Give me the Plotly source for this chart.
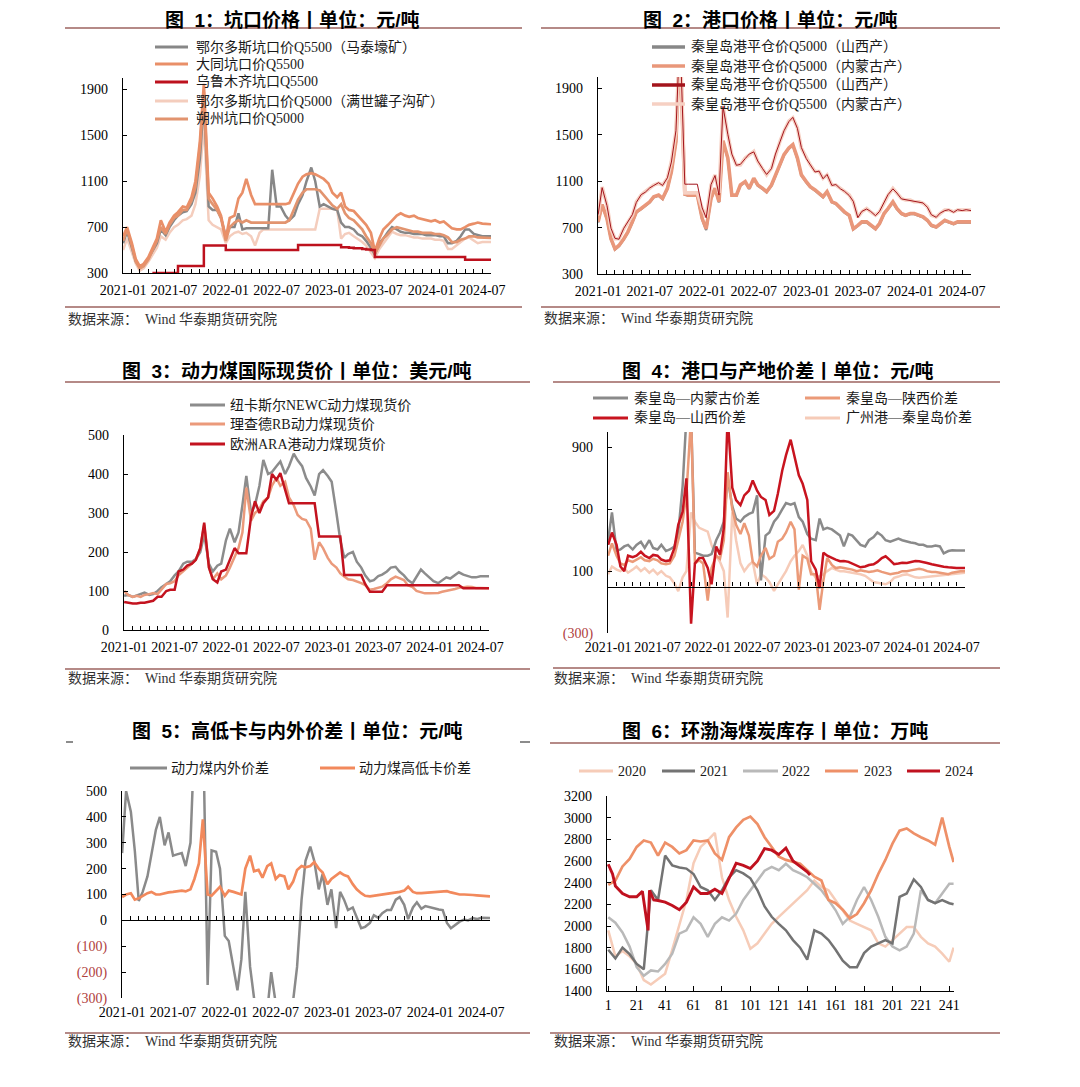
import plotly.graph_objects as go
import pandas as pd

# page body keeps an 8px margin, so the figure is sized to fit inside the window
OFF = 8
W, H = 1080 - 2 * OFF, 1087 - 2 * OFF
SERIF = "Liberation Serif, Noto Sans CJK SC"
HEI = "Liberation Sans, Noto Sans CJK SC"
NEG = "#b0413e"

# ---------------- data ----------------
DATES = [d.strftime("%Y-%m-%d") for d in pd.date_range("2021-01-01", "2024-08-01", freq="SMS")]

# Fig 1 pit-mouth prices
ORDOS5500 = [
    560, 660, 520, 400, 350, 370, 430, 490, 560, 680,
    630, 700, 760, 800, 830, 840, 900, 1000, 1300, 1800,
    880, 850, 850, 780, 620, 700, 700, 820, 680, 690,
    690, 690, 690, 690, 690, 1200, 880, 880, 800, 760,
    800, 900, 980, 1100, 1220, 1100, 880, 900, 880, 860,
    850, 740, 700, 700, 680, 640, 620, 580, 520, 460,
    560, 600, 660, 700, 680, 660, 650, 650, 640, 640,
    640, 630, 630, 630, 620, 620, 560, 560, 580, 620,
    680, 680, 640, 630, 620, 620, 620]
DATONG = [
    620, 700, 560, 420, 360, 380, 440, 520, 600, 760,
    660, 740, 800, 830, 880, 870, 960, 1100, 1450, 1950,
    1000, 950, 880, 800, 600, 780, 800, 950, 1000, 1120,
    980, 900, 900, 900, 900, 900, 900, 900, 900, 910,
    1000, 1080, 1140, 1160, 1170, 1160, 1140, 1120, 1080, 1000,
    960, 1000, 880, 850, 840, 800, 760, 720, 650, 490,
    600, 680, 720, 760, 800, 820, 800, 790, 800, 780,
    770, 760, 750, 760, 740, 750, 720, 690, 680, 680,
    700, 720, 730, 740, 730, 725, 725]
URUMQI = [
    None, None, None, None, None, None, None, 300, 300, 300,
    300, 300, 300, 360, 360, 360, 360, 360, 360, 540,
    540, 540, 540, 540, 500, 500, 500, 500, 500, 500,
    500, 500, 500, 500, 500, 500, 500, 500, 500, 500,
    500, 545, 545, 545, 545, 545, 545, 545, 545, 545,
    545, 525, 525, 520, 515, 515, 510, 505, 500, 440,
    440, 440, 440, 440, 440, 440, 440, 440, 440, 440,
    440, 440, 440, 440, 440, 440, 440, 440, 440, 440,
    415, 415, 415, 415, 415, 415, 415]
ORDOS5000 = [
    500, 600, 480, 380, 320, 340, 400, 460, 520, 620,
    590, 650, 700, 720, 760, 770, 800, 900, 1150, 1600,
    760, 720, 700, 680, 560, 620, 650, 660, 640, 650,
    620, 540, 650, 680, 680, 680, 680, 680, 680, 680,
    680, 680, 680, 680, 680, 680, 860, 860, 860, 860,
    850, 600, 640, 650, 620, 600, 570, 540, 480, 430,
    510, 560, 620, 660, 640, 630, 630, 620, 610, 610,
    600, 600, 600, 590, 590, 580, 510, 510, 540, 570,
    600, 610, 580, 560, 570, 570, 570]
SHUOZHOU = [
    580, 680, 540, 400, 340, 360, 420, 500, 580, 700,
    640, 720, 780, 800, 850, 850, 930, 1050, 1400, 1880,
    950, 900, 850, 780, 580, 700, 740, 760, 740, 760,
    740, 740, 740, 740, 740, 740, 740, 740, 740, 760,
    860, 940, 1000, 1030, 1030, 1030, 1020, 980, 930, 890,
    860, 900, 820, 780, 760, 720, 680, 620, 560, 470,
    540, 600, 640, 680, 700, 690, 680, 670, 660, 660,
    650, 650, 650, 640, 640, 630, 610, 570, 570, 590,
    600, 620, 620, 610, 610, 605, 605]

# Fig 2 port prices
Q5000_SX = [
    745, 895, 772, 600, 512, 541, 600, 657, 745, 831,
    860, 890, 918, 962, 976, 947, 1034, 1179, 1440, 2300,
    985, 975, 975, 975, 772, 680, 947, 1035, 918, 1445,
    1295, 976, 976, 1063, 1092, 1034, 1121, 1063, 1034, 1005,
    1063, 1150, 1237, 1325, 1382, 1411, 1295, 1150, 1092, 1049,
    1020, 991, 962, 1005, 918, 904, 860, 831, 802, 685,
    715, 745, 745, 715, 686, 730, 817, 860, 918, 860,
    817, 802, 817, 817, 802, 788, 759, 715, 701, 730,
    759, 745, 730, 745, 745, 745, 745]
Q5000_NM = [
    750, 900, 778, 604, 517, 546, 604, 662, 750, 836,
    865, 895, 923, 967, 981, 952, 1039, 1184, 1445, 2300,
    990, 980, 980, 980, 778, 690, 952, 1040, 923, 1450,
    1300, 981, 981, 1068, 1097, 1039, 1126, 1068, 1039, 1010,
    1068, 1155, 1242, 1330, 1387, 1416, 1300, 1155, 1097, 1054,
    1025, 996, 967, 1010, 923, 909, 865, 836, 807, 690,
    720, 750, 750, 720, 691, 735, 822, 865, 923, 865,
    822, 807, 822, 822, 807, 793, 764, 720, 706, 735,
    764, 750, 735, 750, 750, 750, 750]
Q5500_SX = [
    812, 1045, 890, 695, 608, 600, 695, 755, 812, 918,
    985, 1005, 1043, 1064, 1088, 1064, 1130, 1266, 1537, 2400,
    1075, 1075, 1075, 1075, 870, 785, 1072, 1150, 981, 1745,
    1505, 1335, 1238, 1246, 1296, 1335, 1354, 1275, 1209, 1159,
    1209, 1335, 1441, 1536, 1615, 1652, 1557, 1391, 1296, 1246,
    1180, 1188, 1122, 1159, 1064, 1072, 1035, 1014, 977, 927,
    786, 840, 861, 840, 803, 840, 919, 985, 1035, 999,
    948, 942, 934, 927, 919, 913, 876, 811, 789, 826,
    847, 855, 832, 855, 847, 855, 847]
Q5500_NM = [
    807, 1050, 895, 691, 604, 604, 691, 750, 807, 923,
    981, 1010, 1039, 1068, 1083, 1068, 1126, 1271, 1532, 2400,
    1000, 1000, 1000, 1000, 865, 790, 1068, 1155, 1000, 1750,
    1500, 1330, 1242, 1242, 1300, 1330, 1358, 1271, 1213, 1155,
    1213, 1330, 1445, 1532, 1619, 1648, 1561, 1387, 1300, 1242,
    1184, 1184, 1126, 1155, 1068, 1068, 1039, 1010, 981, 923,
    790, 836, 865, 836, 807, 836, 923, 981, 1039, 995,
    952, 938, 938, 923, 923, 909, 880, 807, 793, 822,
    851, 851, 836, 851, 851, 851, 851]

# Fig 3 international spot prices (USD/t)
NEWC = [
    88, 90, 85, 88, 92, 96, 90, 92, 100, 110,
    118, 125, 140, 150, 170, 175, 175, 182, 200, 245,
    170, 150, 165, 170, 230, 260, 225, 250, 320, 395,
    300, 320, 370, 436, 400, 405, 420, 432, 400, 420,
    452, 435, 420, 390, 368, 345, 400, 410, 395, 380,
    300, 230, 185, 195, 200, 175, 160, 140, 125, 128,
    138, 142, 150, 160, 162, 150, 140, 128, 120, 135,
    155, 145, 135, 125, 120, 128, 135, 132, 140, 148,
    142, 138, 135, 135, 138, 138, 138]
RB = [
    100, 90, 85, 88, 85, 90, 92, 95, 92, 105,
    118, 120, 125, 140, 150, 160, 170, 180, 210, 270,
    160, 130, 145, 130, 140, 160, 190, 210, 250, 365,
    280, 300, 310, 330, 340, 370, 390, 370, 380, 340,
    320, 295, 285, 282, 260, 180, 225, 210, 185, 170,
    160, 145, 137, 130, 128, 125, 120, 115, 103, 105,
    108, 111, 120, 130, 137, 132, 128, 115, 110, 100,
    96, 94, 94, 94, 95, 98, 100, 103, 105, 108,
    110, 111, 110, 108, 108, 107, 107]
ARA = [
    72, 70, 68, 68, 70, 70, 72, 75, 85, 85,
    100, 103, 103, 150, 155, 165, 170, 180, 210, 275,
    160, 130, 122, 150, 155, 180, 210, 197, 197, 197,
    290, 330, 300, 325, 340, 400, 385, 402, 360, 325,
    325, 325, 325, 325, 325, 325, 240, 240, 240, 240,
    240, 240, 141, 141, 141, 141, 141, 118, 98, 98,
    98, 98, 115, 115, 115, 115, 115, 115, 115, 115,
    115, 115, 115, 115, 115, 115, 115, 115, 115, 115,
    107, 107, 107, 107, 107, 107, 107]

# Fig 4 port vs origin spreads
SPR_NM = [
    300, 480, 230, 240, 260, 270, 240, 270, 290, 250,
    300, 250, 240, 270, 230, 240, 260, 350, 650, 1100,
    1100, 220, 210, 200, 200, 210, 300, 350, 420, 700,
    520, 440, 420, 450, 470, 480, 590, 40, 330, 350,
    420, 450, 500, 540, 530, 540, 450, 420, 340, 310,
    300, 440, 370, 380, 370, 350, 330, 260, 340, 330,
    300, 270, 260, 300, 320, 350, 330, 300, 290, 300,
    310, 300, 290, 285, 280, 270, 270, 260, 260, 265,
    260, 215, 230, 235, 233, 233, 233]
SPR_SHX = [
    200, 280, 200, 150, 140, 170, 160, 175, 190, 170,
    165, 180, 170, 150, 145, 150, 200, 300, 420, 600,
    1100, 150, 170, 150, -90, 120, 200, 180, 300, 740,
    500, 400, 340, 410, 330, 160, 130, 200, 250, 180,
    200, 290, 310, 350, 420, 370, -20, 200, 180, 80,
    80, -150, 40, 185, 140, 120, 125, 120, 115, 110,
    100, 105, 100, 95, 100, 105, 95, 90, 80, 85,
    90, 100, 100, 105, 110, 115, 110, 100, 95, 95,
    90, 85, 80, 90, 95, 100, 100]
SPR_SX = [
    270, 350, 270, 130, 100, 200, 190, 200, 225, 200,
    185, 205, 200, 175, 165, 170, 250, 400, 484, 700,
    -240, 150, 185, 185, 121, 15, 260, 207, 380, 1100,
    640, 560, 527, 590, 620, 687, 620, 580, 560, 463,
    490, 600, 750, 850, 950, 846, 720, 665, 560, 164,
    110, -10, 220, 200, 185, 175, 164, 165, 160, 150,
    135, 125, 130, 140, 145, 160, 185, 196, 170, 145,
    150, 155, 153, 160, 165, 164, 160, 153, 145, 138,
    132, 128, 125, 121, 121, 121, 121]
SPR_GZ = [
    80, 130, 110, 100, 120, 90, 110, 130, 100, 120,
    90, 110, 80, 100, 70, 60, 20, -30, 60, 100,
    480, 420, 380, 370, 356, 270, 200, 160, 100, -200,
    480, 300, 150, 100, 140, 160, 15, 80, 60, 30,
    -28, 15, 60, 100, 164, 200, 230, 270, 200, 100,
    57, 70, 79, 100, 121, 110, 100, 100, 95, 90,
    85, 80, 70, 50, 30, 25, 20, 15, 30, 57,
    65, 75, 79, 70, 60, 57, 60, 65, 68, 70,
    75, 79, 80, 85, 88, 90, 90]

# Fig 5 spreads
IN_OUT = [
    260, 500, 420, 270, 75, 110, 170, 250, 350, 400,
    290, 340, 250, 255, 260, 210, 300, 700, 900, 800,
    -250, 270, 265, 200, -60, -80, -180, -270, -150, 110,
    -180, -300, -350, -380, -350, -200, -320, -380, -400, -350,
    -310, -180, 80, 230, 285, 230, 120, 180, 60, 120,
    -30, 110, 80, 40, 50, 10, -30, -25, -10, 20,
    10, 28, 40, 40, 80, 90, 60, 5, 50, 70,
    45, 55, 50, 45, 42, 40, -10, -30, -15, -5,
    3, 0, 9, 5, 10, 9, 9]
HI_LO = [
    90, 100, 105, 80, 85, 95, 105, 110, 100, 100,
    105, 108, 110, 112, 115, 112, 120, 160, 220, 390,
    100, 95, 115, 130, 95, 115, 110, 105, 100, 200,
    250, 190, 195, 165, 210, 220, 160, 175, 170, 120,
    150, 195, 210, 205, 210, 225, 200, 185, 140, 160,
    175, 185, 175, 170, 140, 120, 105, 95, 93, 95,
    98, 100, 102, 105, 106, 110, 115, 130, 110, 105,
    105, 106, 106, 108, 110, 112, 113, 108, 102, 100,
    100, 100, 98, 97, 95, 95, 93]

# Fig 6 Bohai-rim inventory (10k t), by day index
X6 = [1, 6, 11, 16, 21, 26, 31, 36, 41, 46, 51, 56, 61, 66, 71, 76, 81, 86, 91, 96,
      101, 106, 111, 116, 121, 126, 131, 136, 141, 146, 151, 156, 161, 166, 171, 176,
      181, 186, 191, 196, 201, 206, 211, 216, 221, 226, 231, 236, 241, 244]
Y2020 = [1960, 1720, 1770, 1720, 1650, 1500, 1460, 1510, 1560, 1780,
         2020, 2240, 2580, 2730, 2790, 2860, 2450, 2240, 2085, 1960,
         1790, 1840, 1930, 2020, 2085, 2145, 2210, 2270, 2330, 2420,
         2360, 2330, 2240, 2145, 2050, 2020, 1990, 1960, 1840, 1810,
         1870, 1930, 1990, 1990, 1900, 1840, 1810, 1745, 1670, 1800]
Y2021 = [1780, 1700, 1800, 1740, 1650, 1600, 2330, 2240, 2650, 2560,
         2540, 2530, 2480, 2360, 2330, 2240, 2330, 2450, 2515, 2485,
         2440, 2330, 2180, 2085, 2020, 1960, 1870, 1800, 1690, 1960,
         1930, 1870, 1780, 1680, 1620, 1620, 1750, 1810, 1840, 1870,
         1840, 2270, 2300, 2430, 2360, 2240, 2210, 2240, 2210, 2200]
Y2022 = [2080, 2030, 1940, 1810, 1620, 1540, 1590, 1580, 1650, 1745,
         1930, 1960, 2080, 2020, 1900, 2020, 2080, 2050, 2115, 2240,
         2330, 2420, 2510, 2545, 2515, 2575, 2515, 2485, 2450, 2390,
         2330, 2240, 2145, 2020, 2085, 2240, 2360, 2240, 2085, 1900,
         1810, 1775, 1810, 1930, 2330, 2240, 2210, 2300, 2390, 2390]
Y2023 = [2380, 2420, 2550, 2620, 2730, 2790, 2770, 2650, 2770, 2730,
         2670, 2700, 2790, 2780, 2790, 2670, 2610, 2820, 2910, 2980,
         3010, 2940, 2820, 2730, 2640, 2610, 2590, 2575, 2515, 2455,
         2420, 2240, 2210, 2150, 2070, 2110, 2210, 2330, 2480, 2610,
         2760, 2880, 2900, 2855, 2820, 2790, 2750, 3000, 2730, 2590]
X2024 = [1, 4, 6, 11, 16, 21, 25, 27, 29, 30, 33, 36, 41, 46, 51, 56, 61, 66, 71, 76,
         81, 86, 91, 96, 101, 106, 111, 116, 121, 126, 131, 136, 141, 143]
Y2024 = [2570, 2480, 2370, 2300, 2270, 2270, 2320, 2150, 1960, 2330,
         2240, 2235, 2220, 2190, 2150, 2220, 2360, 2300, 2300, 2340,
         2300, 2440, 2580, 2560, 2530, 2600, 2715, 2700, 2660, 2720,
         2600, 2550, 2500, 2470]
X6_TICKS = [1, 21, 41, 61, 81, 101, 121, 141, 161, 181, 201, 221, 241]

# ---------------- layout helpers (window pixel -> paper fraction) ----------------
def px(x):
    return (x - OFF) / W


def py(y):
    return 1 - (y - OFF) / H


DOM = {
    1: ((123, 491), (78, 273)),
    2: ((598, 971), (77, 274)),
    3: ((124, 489), (435, 630)),
    4: ((608, 965), (432, 633)),
    5: ((122, 490), (791, 998)),
    6: ((607, 954), (796, 991)),
}


def xdom(k):
    a, b = DOM[k][0]
    return [px(a), px(b)]


def ydom(k):
    t, b = DOM[k][1]
    return [py(b), py(t)]


XR = ["2020-12-31 12:00", "2024-08-01"]
TICKFONT = dict(family=SERIF, size=14, color="black")


def date_xaxis(k, anchor, line=True):
    d = dict(domain=xdom(k), anchor=anchor, type="date", range=XR, tickformat="%Y-%m",
             dtick="M6", tick0="2021-01-01", tickangle=0, showgrid=False, zeroline=False,
             tickfont=TICKFONT, ticklabelstandoff=4, fixedrange=True, automargin=False)
    if line:
        d.update(showline=True, linecolor="black", linewidth=1.3, ticks="inside", ticklen=4,
                 tickcolor="black", tickwidth=1,
                 minor=dict(dtick="M1", ticks="inside", ticklen=4, tickcolor="black",
                            tickwidth=1, showgrid=False))
    else:
        d.update(showline=False, ticks="")
    return d


def zero_axis(k, base, rng):
    y0, y1 = ydom(k)
    pos = y0 + (0 - rng[0]) / (rng[1] - rng[0]) * (y1 - y0)
    return dict(overlaying=base, anchor="free", position=pos, type="date", range=XR,
                dtick="M6", tick0="2021-01-01", showticklabels=False, showgrid=False,
                zeroline=False, showline=True, linecolor="black", linewidth=1.3,
                ticks="inside", ticklen=4, tickcolor="black", tickwidth=1, fixedrange=True,
                automargin=False,
                minor=dict(dtick="M1", ticks="inside", ticklen=4, tickcolor="black",
                           tickwidth=1, showgrid=False))


def yaxis(k, anchor, rng, tickvals, ticktext=None):
    d = dict(domain=ydom(k), anchor=anchor, range=rng, tickvals=tickvals, showgrid=False,
             zeroline=False, showline=True, linecolor="black", linewidth=1.3,
             ticks="inside", ticklen=4, tickcolor="black", tickwidth=1,
             tickfont=TICKFONT, ticklabelstandoff=11, fixedrange=True, automargin=False)
    if ticktext is not None:
        d["ticktext"] = ticktext
    return d


def neg(t):
    return "<span style='color:%s'>%s</span>" % (NEG, t)


def line(x, y, xa, ya, color, width, shape="linear"):
    return go.Scatter(x=x, y=y, xaxis=xa, yaxis=ya, mode="lines",
                      line=dict(color=color, width=width, shape=shape),
                      hoverinfo="skip", showlegend=False, connectgaps=False)


# colours
GRAY = "#878787"
ORANGE = "#e98f68"
ORANGE2 = "#e2946f"
RED = "#bd111d"
PINK = "#f4cdbd"

fig = go.Figure()

# Fig 1
fig.add_trace(line(DATES, ORDOS5000, "x", "y", PINK, 2.5))
fig.add_trace(line(DATES, ORDOS5500, "x", "y", GRAY, 2.5))
fig.add_trace(line(DATES, SHUOZHOU, "x", "y", ORANGE2, 2.7))
fig.add_trace(line(DATES, DATONG, "x", "y", ORANGE, 2.7))
fig.add_trace(line(DATES, URUMQI, "x", "y", RED, 2.5, "hv"))

# Fig 2
fig.add_trace(line(DATES, Q5000_SX, "x2", "y2", GRAY, 2.4))
fig.add_trace(line(DATES, Q5000_NM, "x2", "y2", "#e9977a", 3.6))
fig.add_trace(line(DATES, Q5500_NM, "x2", "y2", "#f6d0c3", 3.6))
fig.add_trace(line(DATES, Q5500_SX, "x2", "y2", "#a3141c", 1.0))

# Fig 3
fig.add_trace(line(DATES, NEWC, "x3", "y3", "#8c8c8c", 2.5))
fig.add_trace(line(DATES, RB, "x3", "y3", "#eb9a7b", 2.5))
fig.add_trace(line(DATES, ARA, "x3", "y3", "#c3131f", 2.5))

# Fig 4
fig.add_trace(line(DATES, SPR_GZ, "x4", "y4", "#f6cbb8", 2.5))
fig.add_trace(line(DATES, SPR_NM, "x4", "y4", "#8a8a8a", 2.5))
fig.add_trace(line(DATES, SPR_SHX, "x4", "y4", "#eb9a78", 2.5))
fig.add_trace(line(DATES, SPR_SX, "x4", "y4", "#c8141f", 2.5))
fig.add_trace(go.Scatter(x=[DATES[0], DATES[-1]], y=[0, 0], xaxis="x7", yaxis="y4",
                         mode="lines", line=dict(color="black", width=0.1), opacity=0,
                         hoverinfo="skip", showlegend=False))

# Fig 5
fig.add_trace(line(DATES, IN_OUT, "x5", "y5", "#8a8a8a", 2.5))
fig.add_trace(line(DATES, HI_LO, "x5", "y5", "#f2895c", 2.7))
fig.add_trace(go.Scatter(x=[DATES[0], DATES[-1]], y=[0, 0], xaxis="x8", yaxis="y5",
                         mode="lines", line=dict(color="black", width=0.1), opacity=0,
                         hoverinfo="skip", showlegend=False))

# Fig 6
fig.add_trace(line(X6, Y2020, "x6", "y6", "#f6ccb8", 2.5))
fig.add_trace(line(X6, Y2022, "x6", "y6", "#b9b9b9", 2.5))
fig.add_trace(line(X6, Y2021, "x6", "y6", "#737373", 2.5))
fig.add_trace(line(X6, Y2023, "x6", "y6", "#ee9068", 2.7))
fig.add_trace(line(X2024, Y2024, "x6", "y6", "#c0111f", 2.9))

R4 = [-300, 1000]
R5 = [-300, 500]

layout = dict(
    width=W, height=H, autosize=False,
    margin=dict(l=0, r=0, t=0, b=0, pad=0, autoexpand=False),
    paper_bgcolor="white", plot_bgcolor="white", showlegend=False,
    xaxis=date_xaxis(1, "y"),
    yaxis=yaxis(1, "x", [300, 2000], [300, 700, 1100, 1500, 1900]),
    xaxis2=date_xaxis(2, "y2"),
    yaxis2=yaxis(2, "x2", [300, 2000], [300, 700, 1100, 1500, 1900]),
    xaxis3=date_xaxis(3, "y3"),
    yaxis3=yaxis(3, "x3", [0, 500], [0, 100, 200, 300, 400, 500]),
    xaxis4=date_xaxis(4, "y4", line=False),
    yaxis4=yaxis(4, "x4", R4, [-300, 100, 500, 900], [neg("(300)"), "100", "500", "900"]),
    xaxis7=zero_axis(4, "x4", R4),
    xaxis5=date_xaxis(5, "y5", line=False),
    yaxis5=yaxis(5, "x5", R5, [-300, -200, -100, 0, 100, 200, 300, 400, 500],
                 [neg("(300)"), neg("(200)"), neg("(100)"), "0", "100", "200", "300", "400", "500"]),
    xaxis8=zero_axis(5, "x5", R5),
    xaxis6=dict(domain=xdom(6), anchor="y6", range=[0.1, 244.3], tickvals=X6_TICKS,
                tickangle=0, showgrid=False, zeroline=False, showline=True, linecolor="black",
                linewidth=1.3, ticks="inside", ticklen=5, tickcolor="black",
                tickfont=TICKFONT, ticklabelstandoff=1, fixedrange=True, automargin=False),
    yaxis6=yaxis(6, "x6", [1400, 3200], [1400, 1600, 1800, 2000, 2200, 2400, 2600, 2800, 3000, 3200]),
)
fig.update_layout(**layout)

# ---------------- decorations ----------------
RULE = "#b58a87"
shapes = []
annotations = []


def hline(x0, x1, y, color=RULE, width=2):
    shapes.append(dict(type="line", xref="paper", yref="paper", x0=px(x0), x1=px(x1),
                       y0=py(y), y1=py(y), line=dict(color=color, width=width)))


def text(x, y, s, size=14, family=SERIF, color="#1a1a1a", anchor="left", yanchor="middle"):
    annotations.append(dict(xref="paper", yref="paper", x=px(x), y=min(1.0, py(y)), text=s,
                            showarrow=False, xanchor=anchor, yanchor=yanchor, borderpad=0,
                            font=dict(family=family, size=size, color=color)))


def legend_item(x0, x1, y, color, width, label, tx=None):
    hline(x0, x1, y, color, width)
    text(x1 + 6 if tx is None else tx, y, label)


# (centre x, y, text, vertical anchor); the first row sits against the top edge
TITLES = [
    (292, OFF, "图\u00a0\u00a01：坑口价格丨单位：元/吨", "top"),
    (770, OFF, "图\u00a0\u00a02：港口价格丨单位：元/吨", "top"),
    (296, 370.5, "图\u00a0\u00a03：动力煤国际现货价丨单位：美元/吨", "middle"),
    (777, 370.5, "图\u00a0\u00a04：港口与产地价差丨单位：元/吨", "middle"),
    (297, 730.5, "图\u00a0\u00a05：高低卡与内外价差丨单位：元/吨", "middle"),
    (775, 730.5, "图\u00a0\u00a06：环渤海煤炭库存丨单位：万吨", "middle"),
]
for x, y, s, ya in TITLES:
    text(x, y, "<b>%s</b>" % s, size=19, family=HEI, color="black", anchor="center", yanchor=ya)

SOURCE = "数据来源：\u00a0\u00a0Wind 华泰期货研究院"
for x, y in [(67, 319), (543, 318), (67, 678), (553, 678), (67, 1041), (553, 1041)]:
    text(x, y, SOURCE, size=14, color="#333333")

for x0, x1, y in [(65, 522, 28), (65, 522, 307), (541, 1000, 28), (541, 1000, 307),
                  (65, 530, 382), (65, 530, 669), (553, 1000, 382), (553, 1000, 668),
                  (65, 530, 1033), (550, 1000, 743), (550, 1000, 1033)]:
    hline(x0, x1, y)
hline(66, 73, 742, "#8c8c8c", 2)
hline(520, 530, 742, "#8c8c8c", 2)

# legends
L1 = ["鄂尔多斯坑口价Q5500（马泰壕矿）", "大同坑口价Q5500", "乌鲁木齐坑口Q5500",
      "鄂尔多斯坑口价Q5000（满世罐子沟矿）", "朔州坑口价Q5000"]
C1 = [GRAY, ORANGE, RED, PINK, ORANGE2]
for lab, c, y in zip(L1, C1, [47, 64, 82, 101, 119]):
    legend_item(155, 188, y, c, 3, lab, 195)

L2 = ["秦皇岛港平仓价Q5000（山西产）", "秦皇岛港平仓价Q5000（内蒙古产）",
      "秦皇岛港平仓价Q5500（山西产）", "秦皇岛港平仓价Q5500（内蒙古产）"]
C2 = [GRAY, "#e9977a", "#a3141c", "#f6d0c3"]
for lab, c, y in zip(L2, C2, [47, 66, 85, 104]):
    legend_item(652, 685, y, c, 3.5, lab, 690)

L3 = ["纽卡斯尔NEWC动力煤现货价", "理查德RB动力煤现货价", "欧洲ARA港动力煤现货价"]
C3 = ["#8c8c8c", "#eb9a7b", "#c3131f"]
for lab, c, y in zip(L3, C3, [405, 424, 444]):
    legend_item(190, 225, y, c, 3, lab, 229)

legend_item(593, 628, 398, "#8a8a8a", 3, "秦皇岛—内蒙古价差", 633)
legend_item(805, 840, 398, "#eb9a78", 3, "秦皇岛—陕西价差", 845)
legend_item(593, 628, 418, "#c8141f", 3, "秦皇岛—山西价差", 633)
legend_item(805, 840, 418, "#f6cbb8", 3, "广州港—秦皇岛价差", 845)

legend_item(130, 167, 768, "#8a8a8a", 3, "动力煤内外价差", 170)
legend_item(320, 355, 768, "#f2895c", 3, "动力煤高低卡价差", 358)

L6 = ["2020", "2021", "2022", "2023", "2024"]
C6 = ["#f6ccb8", "#737373", "#b9b9b9", "#ee9068", "#c0111f"]
for lab, c, (x0, x1), tx in zip(L6, C6, [(579, 613), (662, 695), (743, 778), (825, 858), (907, 940)],
                                [617, 699, 781, 863, 944]):
    legend_item(x0, x1, 771, c, 3, lab, tx)

fig.update_layout(shapes=shapes, annotations=annotations)
fig.write_html("out.html")
